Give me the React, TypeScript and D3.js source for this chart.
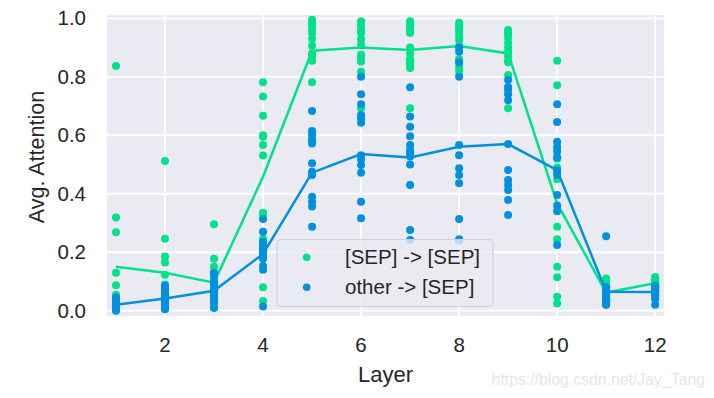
import React from 'react';
import * as d3 from 'd3';

const layers = [1, 2, 3, 4, 5, 6, 7, 8, 9, 10, 11, 12];
const xTicks = [2, 4, 6, 8, 10, 12];
const yTicks = [0, 0.2, 0.4, 0.6, 0.8, 1.0];

// per-head values for [SEP] -> [SEP], one row per layer
const sepPoints: number[][] = [
  [0.837, 0.319, 0.268, 0.13, 0.087, 0.055, 0.03, 0.02, 0.02, 0.015, 0.01, 0.01],
  [0.512, 0.246, 0.185, 0.165, 0.123, 0.09, 0.07, 0.06, 0.04, 0.03, 0.02, 0.02],
  [0.296, 0.178, 0.15, 0.13, 0.11, 0.09, 0.07, 0.05, 0.04, 0.02, 0.01, 0.01],
  [0.781, 0.733, 0.667, 0.6, 0.595, 0.567, 0.531, 0.335, 0.33, 0.246, 0.08, 0.033],
  [0.995, 0.985, 0.975, 0.96, 0.95, 0.93, 0.906, 0.88, 0.87, 0.855, 0.781, 0.584],
  [0.99, 0.985, 0.975, 0.96, 0.95, 0.928, 0.91, 0.875, 0.865, 0.852, 0.817, 0.692],
  [0.99, 0.98, 0.97, 0.96, 0.95, 0.9, 0.88, 0.86, 0.85, 0.84, 0.83, 0.692],
  [0.985, 0.975, 0.965, 0.955, 0.94, 0.926, 0.905, 0.86, 0.857, 0.845, 0.83, 0.817],
  [0.96, 0.95, 0.945, 0.93, 0.915, 0.9, 0.885, 0.87, 0.855, 0.85, 0.806, 0.692],
  [0.855, 0.771, 0.52, 0.49, 0.47, 0.45, 0.287, 0.244, 0.15, 0.114, 0.048, 0.025],
  [0.11, 0.1, 0.09, 0.08, 0.07, 0.06, 0.055, 0.05, 0.045, 0.04, 0.03, 0.02],
  [0.115, 0.11, 0.105, 0.1, 0.1, 0.095, 0.09, 0.09, 0.085, 0.085, 0.08, 0.07],
];

// per-head values for other -> [SEP]
const otherPoints: number[][] = [
  [0.045, 0.04, 0.035, 0.03, 0.025, 0.02, 0.015, 0.01, 0.01, 0.005, 0.005, 0.0],
  [0.085, 0.075, 0.065, 0.055, 0.05, 0.045, 0.04, 0.03, 0.02, 0.015, 0.01, 0.005],
  [0.13, 0.12, 0.1, 0.09, 0.08, 0.07, 0.06, 0.05, 0.04, 0.035, 0.03, 0.01],
  [0.314, 0.27, 0.235, 0.225, 0.215, 0.205, 0.195, 0.185, 0.178, 0.153, 0.14, 0.014],
  [0.683, 0.615, 0.601, 0.584, 0.572, 0.504, 0.475, 0.464, 0.39, 0.373, 0.356, 0.287],
  [0.8, 0.74, 0.706, 0.669, 0.658, 0.643, 0.532, 0.518, 0.498, 0.472, 0.373, 0.316],
  [0.764, 0.664, 0.629, 0.597, 0.567, 0.55, 0.54, 0.527, 0.5, 0.43, 0.276, 0.242],
  [0.9, 0.886, 0.85, 0.8, 0.567, 0.532, 0.487, 0.464, 0.436, 0.314, 0.244, 0.24],
  [0.79, 0.765, 0.755, 0.74, 0.72, 0.57, 0.481, 0.447, 0.43, 0.413, 0.379, 0.327],
  [0.706, 0.645, 0.578, 0.56, 0.545, 0.525, 0.48, 0.465, 0.396, 0.36, 0.34, 0.225],
  [0.255, 0.08, 0.07, 0.065, 0.06, 0.05, 0.045, 0.04, 0.035, 0.03, 0.025, 0.02],
  [0.085, 0.08, 0.075, 0.07, 0.07, 0.065, 0.065, 0.06, 0.055, 0.05, 0.04, 0.02],
];

// layer averages
const sepMean = [0.15, 0.13, 0.096, 0.458, 0.889, 0.9, 0.892, 0.905, 0.88, 0.367, 0.062, 0.094];
const otherMean = [0.02, 0.042, 0.068, 0.194, 0.472, 0.536, 0.524, 0.561, 0.57, 0.481, 0.065, 0.064];

const GREEN = '#00e28a';
const BLUE = '#0090e0';
const FONT = '"Liberation Sans", Arial, "DejaVu Sans", sans-serif';
const TEXT = '#262626';

const W = 714;
const H = 398;
const plot = { left: 107, right: 664, top: 15, bottom: 316 };

export default function App() {
  const x = d3.scaleLinear().domain([0.8165, 12.18]).range([plot.left, plot.right]);
  const y = d3.scaleLinear().domain([-0.0181, 1.0113]).range([plot.bottom, plot.top]);

  const line = d3.line<number>()
    .x((_, i) => x(layers[i]))
    .y(d => y(d));

  const dots = (rows: number[][], color: string, key: string) =>
    rows.flatMap((vals, i) =>
      vals.map((v, j) => (
        <circle key={`${key}-${i}-${j}`} cx={x(layers[i])} cy={y(v)} r={4} fill={color} />
      ))
    );

  return (
    <svg width={W} height={H} style={{ position: 'absolute', left: 0, top: 0 }} fontFamily={FONT}>
      <rect width={W} height={H} fill="#ffffff" />
      <rect x={plot.left} y={plot.top} width={plot.right - plot.left} height={plot.bottom - plot.top} fill="#eaeaf2" />

      {/* grid */}
      {xTicks.map(t => (
        <line key={`gx${t}`} x1={x(t)} x2={x(t)} y1={plot.top} y2={plot.bottom} stroke="#fff" strokeWidth={1.8} />
      ))}
      {yTicks.map(t => (
        <line key={`gy${t}`} x1={plot.left} x2={plot.right} y1={y(t)} y2={y(t)} stroke="#fff" strokeWidth={1.8} />
      ))}

      {/* series */}
      {dots(sepPoints, GREEN, 's')}
      <path d={line(sepMean) ?? ''} fill="none" stroke={GREEN} strokeWidth={2.5} />
      {dots(otherPoints, BLUE, 'o')}
      <path d={line(otherMean) ?? ''} fill="none" stroke={BLUE} strokeWidth={2.5} />

      {/* tick labels */}
      {xTicks.map(t => (
        <text key={`tx${t}`} x={x(t)} y={351.5} textAnchor="middle" fontSize={20.5} fill={TEXT}>{t}</text>
      ))}
      {yTicks.map(t => (
        <text key={`ty${t}`} x={86} y={y(t)} dy="0.35em" textAnchor="end" fontSize={20.5} fill={TEXT}>{t.toFixed(1)}</text>
      ))}

      {/* axis labels */}
      <text x={385.5} y={382} textAnchor="middle" fontSize={22} fill={TEXT}>Layer</text>
      <text transform="translate(43.5,157) rotate(-90)" textAnchor="middle" fontSize={21.5} fill={TEXT}>Avg. Attention</text>

      {/* legend */}
      <g>
        <rect x={277} y={239.5} width={216} height={67} rx={4} fill="#eaeaf2" fillOpacity={0.8} stroke="#cfcfd6" strokeWidth={1} />
        <circle cx={306.7} cy={257.3} r={3.8} fill={GREEN} />
        <circle cx={306.7} cy={287.3} r={3.8} fill={BLUE} />
        <text x={345} y={257.3} dy="0.35em" fontSize={20.5} fill={TEXT}>[SEP] -&gt; [SEP]</text>
        <text x={345} y={287.3} dy="0.35em" fontSize={20.5} fill={TEXT}>other -&gt; [SEP]</text>
      </g>

      {/* watermark */}
      <text x={705} y={385} textAnchor="end" fontSize={15.8} fill="#e6e6e6">https://blog.csdn.net/Jay_Tang</text>
    </svg>
  );
}
